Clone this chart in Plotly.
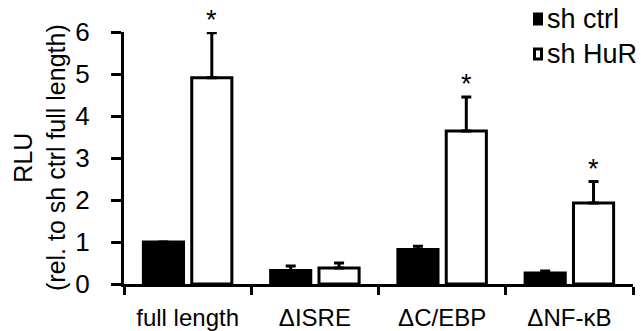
import plotly.graph_objects as go

categories = ["full length", "\u0394ISRE", "\u0394C/EBP", "\u0394NF-\u03baB"]
series_names = ["sh ctrl", "sh HuR"]
ctrl_vals = [1.0, 0.32, 0.82, 0.26]
ctrl_err = [0.0, 0.11, 0.08, 0.05]
hur_vals = [4.91, 0.38, 3.64, 1.93]
hur_err = [1.07, 0.12, 0.81, 0.51]
hur_stars = ["*", "", "*", "*"]
y_ticks = [0, 1, 2, 3, 4, 5, 6]
y_title = "RLU<br>(rel. to sh ctrl full length)"

FONT = "Liberation Sans, Arial, sans-serif"
L, R, T, B = 124, 8, 32, 47
W, H = 641, 331
PW, PH = W - L - R, H - T - B

fig = go.Figure()
fig.add_trace(go.Bar(
    x=categories, y=ctrl_vals, name=series_names[0],
    marker=dict(color="black", line=dict(color="black", width=3)),
    error_y=dict(type="data", array=ctrl_err, arrayminus=[0] * len(ctrl_err),
                 symmetric=False, thickness=3, width=5, color="black"),
))
fig.add_trace(go.Bar(
    x=categories, y=hur_vals, name=series_names[1],
    marker=dict(color="white", line=dict(color="black", width=3)),
    error_y=dict(type="data", array=hur_err, arrayminus=[0] * len(hur_err),
                 symmetric=False, thickness=3, width=5, color="black"),
))

for c, v, e, s in zip(categories, hur_vals, hur_err, hur_stars):
    if s:
        fig.add_annotation(x=c, y=v + e, xref="x", yref="y", text=s, showarrow=False,
                           xshift=24, yanchor="bottom", yshift=-4,
                           font=dict(family=FONT, size=27, color="black"))

# manual legend (paper coordinates derived from pixel layout)
def px_x(p):
    return (p - L) / PW

def px_y(p):
    return (H - B - p) / PH

legend_rows = [(19, "black"), (54, "white")]
for (cy, fill), name in zip(legend_rows, series_names):
    fig.add_shape(type="rect", xref="paper", yref="paper",
                  x0=px_x(534.5), x1=px_x(541.5), y0=px_y(cy - 5), y1=px_y(cy + 5),
                  fillcolor=fill, line=dict(color="black", width=3))
    fig.add_annotation(x=px_x(545), y=px_y(cy), xref="paper", yref="paper",
                       text=name, showarrow=False, xanchor="left", yanchor="middle",
                       font=dict(family=FONT, size=27, color="black"))

# y-axis title
fig.add_annotation(x=px_x(39), y=px_y(158), xref="paper", yref="paper",
                   text=y_title, showarrow=False, textangle=-90,
                   xanchor="center", yanchor="middle",
                   font=dict(family=FONT, size=25, color="black"))

fig.update_layout(
    width=W, height=H,
    margin=dict(l=L, r=R, t=T, b=B, autoexpand=False),
    paper_bgcolor="white", plot_bgcolor="white",
    barmode="group", bargap=0.24, bargroupgap=0.17,
    showlegend=False,
    font=dict(family=FONT, size=24, color="black"),
)
fig.update_xaxes(
    showline=True, linecolor="black", linewidth=3,
    ticks="outside", tickson="boundaries", ticklen=8, tickwidth=3, tickcolor="black",
    tickfont=dict(size=24), ticklabelstandoff=10, showgrid=False, zeroline=False,
)
fig.update_yaxes(
    range=[0, 6], tickvals=y_ticks, showline=True, linecolor="black", linewidth=3,
    ticks="outside", ticklen=10, tickwidth=3, tickcolor="black",
    tickfont=dict(size=26), ticklabelstandoff=16, showgrid=False, zeroline=False,
    automargin=False,
)

fig.write_html("out.html")
